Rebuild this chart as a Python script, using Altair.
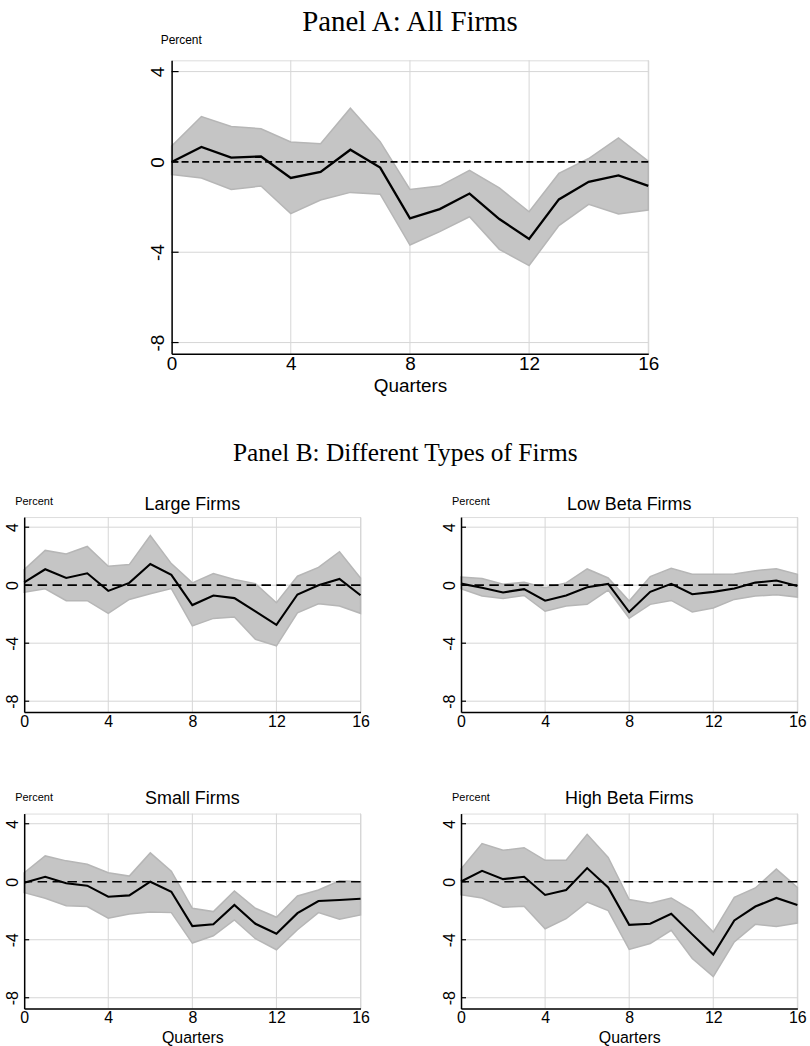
import altair as alt
import pandas as pd

quarters = list(range(17))

# Panel A: All firms
all_est = [0.0, 0.66, 0.19, 0.24, -0.71, -0.44, 0.54, -0.25, -2.5, -2.09, -1.40, -2.53, -3.41, -1.66, -0.88, -0.60, -1.06]
all_hi = [0.7, 2.01, 1.57, 1.47, 0.88, 0.81, 2.38, 0.9, -1.22, -1.07, -0.37, -1.15, -2.21, -0.51, 0.15, 1.06, 0.03]
all_lo = [-0.56, -0.71, -1.22, -1.07, -2.29, -1.69, -1.35, -1.43, -3.68, -3.09, -2.43, -3.87, -4.59, -2.82, -1.88, -2.31, -2.13]

# Large firms
large_est = [0.2, 1.10, 0.50, 0.82, -0.39, 0.16, 1.46, 0.71, -1.37, -0.71, -0.89, -1.81, -2.74, -0.64, 0.0, 0.43, -0.69]
large_hi = [1.07, 2.40, 2.15, 2.67, 1.30, 1.42, 3.43, 1.49, 0.16, 0.80, 0.39, 0.11, -1.21, 0.62, 1.23, 2.31, 0.5]
large_lo = [-0.48, -0.25, -1.07, -1.07, -1.94, -0.98, -0.59, -0.23, -2.81, -2.29, -2.19, -3.73, -4.18, -1.90, -1.28, -1.44, -1.94]

# Low beta firms
lowb_est = [0.11, -0.18, -0.5, -0.27, -1.07, -0.71, -0.14, 0.09, -1.85, -0.46, 0.09, -0.62, -0.46, -0.23, 0.18, 0.32, -0.05]
lowb_hi = [0.57, 0.46, 0.07, 0.2, -0.18, 0.16, 1.12, 0.5, -1.09, 0.59, 1.16, 0.75, 0.75, 0.77, 1.0, 1.14, 0.75]
lowb_lo = [-0.25, -0.75, -0.91, -0.71, -1.8, -1.44, -1.32, -0.34, -2.28, -1.32, -1.05, -1.85, -1.57, -0.98, -0.75, -0.66, -0.82]

# Small firms
small_est = [-0.07, 0.34, -0.11, -0.27, -1.03, -0.94, 0.0, -0.69, -3.06, -2.93, -1.6, -2.9, -3.59, -2.17, -1.33, -1.26, -1.17]
small_hi = [0.62, 1.78, 1.44, 1.21, 0.62, 0.39, 1.99, 0.73, -1.83, -2.06, -0.64, -1.83, -2.45, -0.98, -0.57, 0.07, 0.0]
small_lo = [-0.75, -1.14, -1.65, -1.71, -2.51, -2.22, -2.08, -2.13, -4.23, -3.73, -2.63, -3.93, -4.69, -3.31, -2.13, -2.58, -2.29]

# High beta firms
highb_est = [0.02, 0.75, 0.18, 0.34, -0.91, -0.57, 0.94, -0.39, -2.97, -2.9, -2.21, -3.63, -5.02, -2.67, -1.71, -1.12, -1.6]
highb_hi = [0.87, 2.63, 2.17, 2.35, 1.48, 1.48, 3.27, 1.67, -1.23, -1.48, -1.12, -1.99, -3.47, -1.07, -0.43, 0.87, -0.39]
highb_lo = [-0.89, -1.12, -1.76, -1.69, -3.24, -2.55, -1.41, -1.99, -4.67, -4.26, -3.35, -5.29, -6.54, -4.15, -2.94, -3.08, -2.85]

x_ticks = [0, 4, 8, 12, 16]
x_grid = [4, 8, 12, 16]
y_ticks = [-8, -4, 0, 4]

SANS = "Liberation Sans"
SERIF = "Liberation Serif"
BAND_FILL = "#c5c5c5"
BAND_EDGE = "#b6b6b6"
GRID = "#d6d6d6"


def panel(est, lo, hi, width, height, ydom, subtitle, xtitle, label_size,
          xtitle_size, percent_size, sub_size, tick_len, line_w, sub_dy, pct_dy, pct_dx,
          title_pad, dash):
    df = pd.DataFrame({"q": quarters, "est": est, "lo": lo, "hi": hi})
    xs = alt.Scale(domain=[0, 16], nice=False, zero=False)
    ys = alt.Scale(domain=ydom, nice=False, zero=False)

    xaxis = alt.Axis(values=x_ticks, grid=False, ticks=False, domainColor="black",
                     domainWidth=1.5, labelAngle=0, labelFlush=False, labelOverlap=False,
                     labelFont=SANS, labelFontSize=label_size, labelColor="black",
                     labelPadding=1, title=xtitle if xtitle else None,
                     titleFont=SANS, titleFontSize=xtitle_size, titleFontWeight="normal",
                     titleColor="black", titlePadding=title_pad, zindex=2,
                     labelExpr="toString(datum.value)")
    yaxis = alt.Axis(values=y_ticks, grid=False, ticks=False, domainColor="black",
                     domainWidth=1.5, labelAngle=270, labelAlign="center",
                     labelBaseline="bottom", labelFlush=False, labelOverlap=False,
                     labelFont=SANS, labelFontSize=label_size, labelColor="black",
                     labelPadding=4, title=None, zindex=2,
                     labelExpr="toString(datum.value)")

    band = alt.Chart(df).mark_area(color=BAND_FILL, stroke=BAND_EDGE, strokeWidth=1.5,
                                   opacity=1).encode(
        x=alt.X("q:Q", scale=xs, axis=xaxis),
        y=alt.Y("lo:Q", scale=ys, axis=yaxis),
        y2="hi:Q")
    gx = alt.Chart(pd.DataFrame({"g": x_grid})).mark_rule(color=GRID, strokeWidth=1).encode(
        x=alt.X("g:Q", scale=xs, axis=xaxis))
    gy = alt.Chart(pd.DataFrame({"g": y_ticks})).mark_rule(color=GRID, strokeWidth=1).encode(
        y=alt.Y("g:Q", scale=ys, axis=yaxis))
    zero = alt.Chart(pd.DataFrame({"z": [0]})).mark_rule(color="black", strokeWidth=1.7,
                                                          strokeDash=dash).encode(
        y=alt.Y("z:Q", scale=ys, axis=yaxis))
    line = alt.Chart(df).mark_line(color="black", strokeWidth=line_w).encode(
        x=alt.X("q:Q", scale=xs, axis=xaxis),
        y=alt.Y("est:Q", scale=ys, axis=yaxis))
    ticks = alt.Chart(pd.DataFrame({"g": y_ticks})).mark_rule(color="black", strokeWidth=1.2).encode(
        y=alt.Y("g:Q", scale=ys, axis=yaxis), x=alt.value(0), x2=alt.value(tick_len))
    pct = alt.Chart(pd.DataFrame({"t": ["Percent"]})).mark_text(
        font=SANS, fontSize=percent_size, align="left", baseline="middle", color="black").encode(
        text="t:N", x=alt.value(pct_dx), y=alt.value(pct_dy))
    layers = [gx, gy, band, zero, line, ticks, pct]
    if subtitle:
        sub = alt.Chart(pd.DataFrame({"t": [subtitle]})).mark_text(
            font=SANS, fontSize=sub_size, align="center", baseline="middle", color="black").encode(
            text="t:N", x=alt.value(width / 2), y=alt.value(sub_dy))
        layers.append(sub)
    return alt.layer(*layers).properties(width=width, height=height)


A = panel(all_est, all_lo, all_hi, 479, 295, [-8.5, 4.5], None, "Quarters", 19, 19, 12, 18,
          7, 2.3, -14, -20, -11, 3, [7, 3.5]).properties(
    title=alt.TitleParams("Panel A: All Firms", font=SERIF, fontSize=29, fontWeight="normal",
                          color="black", anchor="middle", offset=-3))

W, H = 338, 196
YD = [-8.75, 4.7]
BD = [9.5, 5.5]
large = panel(large_est, large_lo, large_hi, W, H, YD, "Large Firms", None, 16, 16, 11, 18,
              5, 2.1, -12, -15, -9, 4, BD)
lowb = panel(lowb_est, lowb_lo, lowb_hi, W, H, YD, "Low Beta Firms", None, 16, 16, 11, 18,
             5, 2.1, -12, -15, -9, 4, BD)
small = panel(small_est, small_lo, small_hi, W, H, YD, "Small Firms", "Quarters", 16, 16, 11, 18,
              5, 2.1, -15, -16, -9, 4, BD)
highb = panel(highb_est, highb_lo, highb_hi, W, H, YD, "High Beta Firms", "Quarters", 16, 16, 11, 18,
              5, 2.1, -15, -16, -9, 4, BD)

row1 = alt.hconcat(large, lowb, spacing=70)
row2 = alt.hconcat(small, highb, spacing=70)
B = alt.vconcat(row1, row2, spacing=59).properties(
    title=alt.TitleParams("Panel B: Different Types of Firms", font=SERIF, fontSize=25.5,
                          fontWeight="normal", color="black", anchor="middle", offset=29))

chart = alt.vconcat(A, B, spacing=45, center=True).properties(
    padding={"left": 3, "top": 5, "right": 3, "bottom": 3}
).configure_view(strokeWidth=0).configure(background="white")

chart.save("out.html", embed_options={"renderer": "svg", "actions": False})
